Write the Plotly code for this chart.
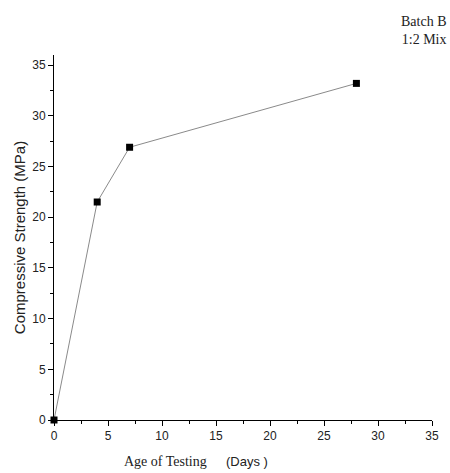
import plotly.graph_objects as go

age_days = [0, 4, 7, 28]
strength_mpa = [0, 21.5, 26.9, 33.2]
x_ticks = [0, 5, 10, 15, 20, 25, 30, 35]
y_ticks = [0, 5, 10, 15, 20, 25, 30, 35]

fig = go.Figure()
fig.add_trace(go.Scatter(
    x=age_days, y=strength_mpa, mode="lines+markers",
    line=dict(color="#8a8a8a", width=1),
    marker=dict(symbol="square", size=7, color="black"),
    showlegend=False, cliponaxis=False,
))

axis_common = dict(
    showgrid=False, zeroline=False, showline=True, linecolor="black", linewidth=1,
    ticks="outside", ticklen=5, tickwidth=1, tickcolor="black",
    tickfont=dict(family="Liberation Sans, Arial", size=12, color="#222"),
    minor=dict(ticks="outside", ticklen=3, tickwidth=1, tickcolor="black", dtick=2.5),
)

fig.update_xaxes(range=[0, 35], tickvals=x_ticks, ticktext=[str(v) for v in x_ticks], **axis_common)
fig.update_yaxes(range=[0, 36], tickvals=y_ticks, ticktext=[str(v) for v in y_ticks],
                 title=dict(text="Compressive Strength (MPa)", standoff=2,
                            font=dict(family="Liberation Sans, Arial", size=15, color="#222")),
                 **axis_common)

fig.add_annotation(text="Age of Testing", xref="paper", yref="paper", x=0.294, y=-0.087,
                   xanchor="center", yanchor="top", showarrow=False,
                   font=dict(family="Liberation Serif, Times New Roman", size=14, color="#222"))
fig.add_annotation(text="(Days )", xref="paper", yref="paper", x=0.51, y=-0.087,
                   xanchor="center", yanchor="top", showarrow=False,
                   font=dict(family="Liberation Sans, Arial", size=13, color="#222"))
fig.add_annotation(text="Batch B<br>1:2 Mix", xref="paper", yref="paper", x=1.045, y=1.118,
                   xanchor="right", yanchor="top", align="right", showarrow=False,
                   font=dict(family="Liberation Serif, Times New Roman", size=14, color="#222"))

fig.update_layout(
    width=450, height=473,
    margin=dict(l=54, r=18, t=55, b=53),
    plot_bgcolor="white", paper_bgcolor="white",
)
fig.write_html("out.html", config={"displayModeBar": False},
               post_script="document.body.style.margin='0';document.body.style.overflow='hidden';")
